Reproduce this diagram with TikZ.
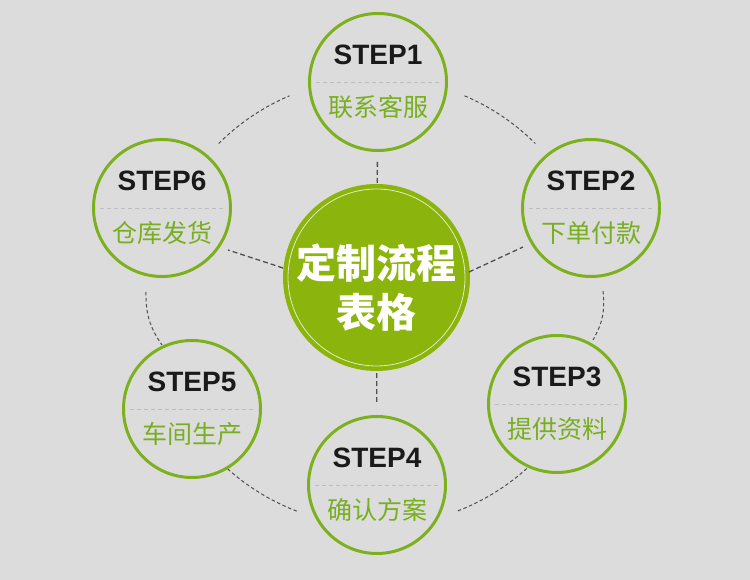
\documentclass[tikz,border=0pt]{standalone}
\usepackage{fontspec}
\newfontfamily\cjk{Noto Sans CJK SC}
\newfontfamily\stepf{Liberation Sans}
\definecolor{bg}{HTML}{DCDCDC}
\definecolor{ctrgreen}{HTML}{8BB40C}
\definecolor{ringgreen}{HTML}{7CB01E}
\definecolor{txtgreen}{HTML}{78AE21}
\definecolor{stepdark}{HTML}{1A1A1A}
\definecolor{divgrey}{HTML}{BDBDBD}
\definecolor{dashgrey}{HTML}{505050}
\tikzset{
  stepcirc/.style={circle, draw=ringgreen, line width=3pt, fill=bg, minimum size=137pt, inner sep=0pt},
  steplabel/.style={font=\stepf\bfseries\fontsize{28}{28}\selectfont, text=stepdark, inner sep=0pt},
  cnlabel/.style={font=\cjk\fontsize{25}{25}\selectfont, text=txtgreen, inner sep=0pt},
  divider/.style={draw=divgrey, dash pattern=on 4pt off 3pt, line width=0.8pt},
  ringline/.style={draw=dashgrey, line width=1pt, dash pattern=on 3.5pt off 2.5pt},
  radline/.style={draw=dashgrey, line width=1.3pt, dash pattern=on 5pt off 3pt},
}
\begin{document}
\begin{tikzpicture}[x=1pt,y=1pt]
\fill[bg] (0,0) rectangle (750,580);
\useasboundingbox (0,0) rectangle (750,580);
\coordinate (ring) at (377,278);
% dashed ring arcs
\draw[ringline] (ring) ++(67:224) arc[start angle=67, end angle=45, radius=224];
\draw[ringline] (ring) ++(-48:224) arc[start angle=-48, end angle=-69, radius=224];
\draw[ringline] (ring) ++(-111:224) arc[start angle=-111, end angle=-132, radius=224];
\draw[ringline] (ring) ++(135:224) arc[start angle=135, end angle=113, radius=224];
\coordinate (a2a) at (603,289);
\coordinate (a2b) at (593,240);
\coordinate (a5a) at (146,288);
\coordinate (a5b) at (162,235);
\draw[ringline] (a2a) to[bend left=18] (a2b);
\draw[ringline] (a5a) to[bend right=18] (a5b);
% center
\node[circle, fill=ctrgreen, minimum size=187pt, inner sep=0pt] (ctr) at (376.5,302.5) {};
\draw[white!75!ctrgreen, line width=0.8pt] (ctr.center) circle[radius=88.5];
\node[font=\cjk\bfseries\fontsize{40}{49}\selectfont, text=white, align=center, inner sep=0pt] (ctrtxt) at (376.5,292.5) {定制流程\\表格};
% step circles
\node[stepcirc] (s1) at (378,498) {};
\node[stepcirc] (s2) at (591,372) {};
\node[stepcirc] (s3) at (557,176) {};
\node[stepcirc] (s4) at (377,95) {};
\node[stepcirc] (s5) at (192,171) {};
\node[stepcirc] (s6) at (162,372) {};
\foreach \n/\t/\c in {s1/STEP1/联系客服, s2/STEP2/下单付款, s3/STEP3/提供资料, s4/STEP4/确认方案, s5/STEP5/车间生产, s6/STEP6/仓库发货}{
  \draw[divider] ([xshift=-62pt]\n.center) -- ([xshift=62pt]\n.center);
  \node[steplabel] (\n t) at ([yshift=27pt]\n.center) {\t};
  \node[cnlabel] (\n c) at ([yshift=-25pt]\n.center) {\c};
}
% radial dashed lines
\draw[radline, shorten <=1pt, shorten >=7pt] (ctr) -- (s1);
\draw[radline, shorten <=2pt, shorten >=13pt] (ctr) -- (s4);
\coordinate (r2a) at (469,308);
\coordinate (r2b) at (523,333);
\coordinate (r6a) at (283,312);
\coordinate (r6b) at (228,330);
\draw[radline] (r2a) -- (r2b);
\draw[radline] (r6a) -- (r6b);
\end{tikzpicture}
\end{document}
